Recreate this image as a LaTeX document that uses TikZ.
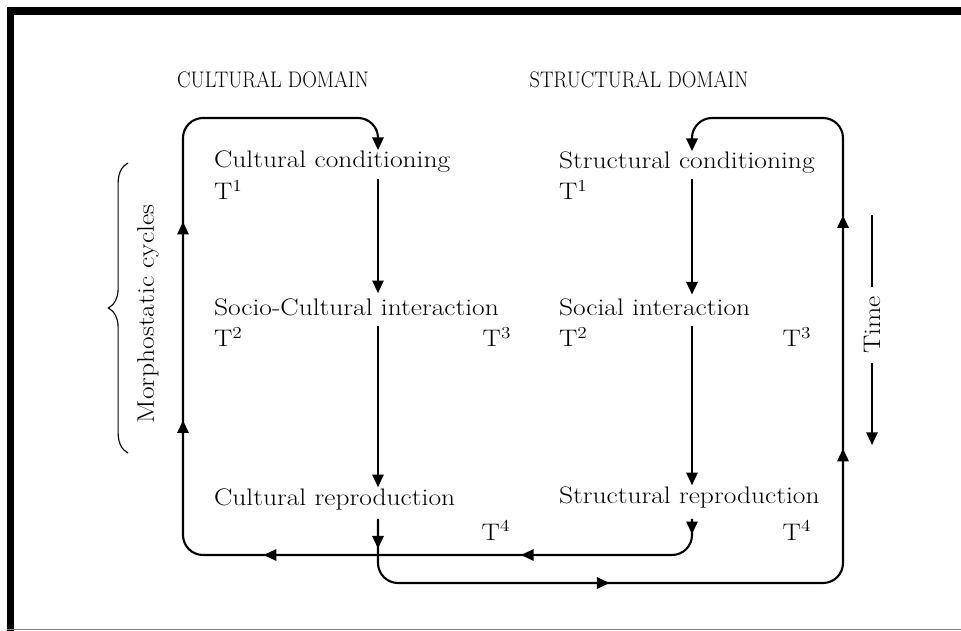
\documentclass[tikz,border=0pt]{standalone}
\usepackage{tikz}
\usepackage{graphicx}
\usetikzlibrary{arrows.meta, positioning, calc, decorations.markings, decorations.pathreplacing}
\newcommand{\stx}[1]{\scalebox{1.15}[1]{#1}}
\newcommand{\nrw}[1]{\scalebox{0.9}[1]{#1}}

\begin{document}
\begin{tikzpicture}[x=0.025cm,y=-0.025cm,>={Triangle[length=9pt,width=8pt]},line width=1.5pt,
                lbl/.style={anchor=west,inner sep=0pt,font=\fontsize{17}{20}\selectfont},
                tmark/.style={inner sep=0pt,font=\fontsize{17}{20}\selectfont},
                head/.style={inner sep=0pt,font=\fontsize{16}{19}\selectfont},
                loopline/.style={->,rounded corners=0.5cm,postaction=decorate}]
                \useasboundingbox (0,0) rectangle (961,631);
                % frame
                \fill (7,7) rectangle (961,15);
                \fill (7,7) rectangle (14,631);
                \draw[gray,line width=0.7pt] (7,629) -- (961,629);
                % headings
                \node[head] (chead) at (273,80) {\nrw{CULTURAL DOMAIN}};
                \node[head] (shead) at (639,80) {\nrw{STRUCTURAL DOMAIN}};
                % cultural column
                \node[lbl] (ccond) at (213,162) {\stx{Cultural conditioning}};
                \node[lbl] (sci) at (213,307) {\stx{Socio-Cultural interaction}};
                \node[lbl] (crep) at (213,499) {\stx{Cultural reproduction}};
                \node[tmark,anchor=west] (ct1) at (213,190) {\stx{T\textsuperscript{1}}};
                \node[tmark,anchor=west] (ct2) at (213,337) {\stx{T\textsuperscript{2}}};
                \node[tmark] (ct3) at (497,337) {\stx{T\textsuperscript{3}}};
                \node[tmark] (ct4) at (496,530) {\stx{T\textsuperscript{4}}};
                % structural column
                \node[lbl] (scond) at (558,163) {\stx{Structural conditioning}};
                \node[lbl] (sint) at (558,307) {\stx{Social interaction}};
                \node[lbl] (srep) at (558,497) {\stx{Structural reproduction}};
                \node[tmark,anchor=west] (st1) at (558,190) {\stx{T\textsuperscript{1}}};
                \node[tmark,anchor=west] (st2) at (558,337) {\stx{T\textsuperscript{2}}};
                \node[tmark] (st3) at (797,337) {\stx{T\textsuperscript{3}}};
                \node[tmark] (st4) at (797,530) {\stx{T\textsuperscript{4}}};
                % axes of the loops
                \coordinate (lx) at (378,0);
                \coordinate (rx) at (692,0);
                \coordinate (wl) at (183,0);
                \coordinate (wr) at (843,0);
                \coordinate (ytop) at (0,118);
                \coordinate (lowa) at (0,555);
                \coordinate (lowb) at (0,583);
                % phases
                \draw[->] (ct1.north -| lx) -- ([yshift=3pt]sci.north -| lx);
                \draw[->] (ct2.north -| lx) -- (crep.north -| lx);
                \draw[->] (st1.north -| rx) -- ([yshift=2pt]sint.north -| rx);
                \draw[->] (st2.north -| rx) -- (srep.north -| rx);
                % cycles
                \draw[loopline,decoration={markings,
                        mark=at position 0.013 with {\arrow{>}},
                        mark=at position 0.169 with {\arrow{>}},
                        mark=at position 0.388 with {\arrow{>}},
                        mark=at position 0.564 with {\arrow{>}},
                        mark=at position 0.733 with {\arrow{>}}}]
                (st4.north -| rx) -- (rx |- lowa) -- (wl |- lowa) -- (wl |- ytop) -- (lx |- ytop) -- (ccond.north -| lx);
                \draw[loopline,decoration={markings,
                        mark=at position 0.026 with {\arrow{>}},
                        mark=at position 0.251 with {\arrow{>}},
                        mark=at position 0.565 with {\arrow{>}},
                        mark=at position 0.769 with {\arrow{>}}}]
                (ct4.north -| lx) -- (lx |- lowb) -- (wr |- lowb) -- (wr |- ytop) -- (rx |- ytop) -- (scond.north -| rx);
                % morphostatic brace
                \coordinate (bra) at (128,453);
                \coordinate (brb) at (128,163);
                \draw[line width=0.8pt,decorate,decoration={brace,amplitude=14pt}] (bra) -- (brb);
                \node[tmark,rotate=90] (morph) at (148,314) {\stx{Morphostatic cycles}};
                % time axis
                \node[tmark,rotate=90,inner sep=6pt] (time) at (872,325) {\stx{Time}};
                \coordinate (ttop) at (872,215);
                \coordinate (tbot) at (872,445);
                \draw (time.east) -- (ttop);
                \draw[->] (time.west) -- (tbot);
            \end{tikzpicture}
\end{document}
